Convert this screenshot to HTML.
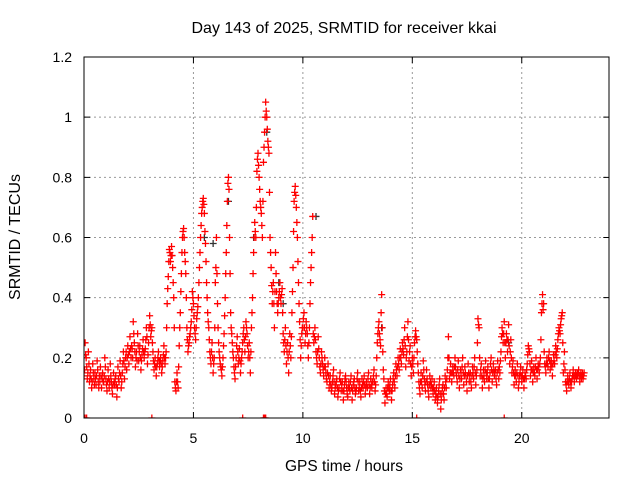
<!DOCTYPE html>
<html><head><meta charset="utf-8"><style>
body{margin:0;background:#fff}
svg{display:block;font-family:"Liberation Sans",sans-serif;font-size:14px}
</style></head><body>
<svg id="chart" width="640" height="480">
<rect width="640" height="480" fill="#fff"/>
<text x="344" y="33" text-anchor="middle" font-size="16">Day 143 of 2025, SRMTID for receiver kkai</text>
<text x="344" y="471" text-anchor="middle" font-size="15.5">GPS time / hours</text>
<text x="20" y="237" text-anchor="middle" font-size="16" transform="rotate(-90 20 237)">SRMTID / TECUs</text>
<defs><clipPath id="pc"><rect x="84" y="57" width="525" height="361"/></clipPath></defs>
<g id="grid"></g><g id="ticks"></g>
<g id="marks" clip-path="url(#pc)"></g>
<rect x="84" y="57" width="525" height="361" fill="none" stroke="#000" stroke-width="1"/>
</svg>
<script>
const xTicks=[0,5,10,15,20];
const yTicks=[0,0.2,0.4,0.6,0.8,1,1.2];
const tStart=0, tStep=0.05, tStartB=0.025;
const srmtid=[
0.14,0.25,0.2,0.13,0.22,0.12,0.16,0.1,0.18,0.13,0.15,0.11,0.19,0.12,0.14,0.17,0.1,0.15,0.12,0.2,
0.13,0.09,0.16,0.1,0.18,0.12,0.08,0.15,0.11,0.14,0.07,0.17,0.12,0.19,0.1,0.15,0.22,0.13,0.2,0.16,
0.24,0.18,0.27,0.2,0.23,0.32,0.25,0.17,0.22,0.28,0.19,0.24,0.16,0.21,0.26,0.2,0.23,0.3,0.18,0.25,
0.34,0.27,0.3,0.22,0.16,0.2,0.14,0.18,0.22,0.17,0.2,0.15,0.19,0.24,0.18,0.22,0.38,0.47,0.56,0.52,
0.57,0.5,0.4,0.12,0.09,0.15,0.1,0.24,0.35,0.48,0.6,0.63,0.55,0.48,0.3,0.22,0.25,0.28,0.32,0.42,
0.38,0.3,0.26,0.33,0.37,0.45,0.55,0.64,0.7,0.73,0.68,0.58,0.45,0.35,0.3,0.22,0.18,0.25,0.15,0.2,
0.45,0.6,0.38,0.25,0.2,0.17,0.14,0.2,0.28,0.4,0.55,0.72,0.8,0.6,0.35,0.28,0.22,0.17,0.13,0.2,
0.27,0.18,0.23,0.15,0.2,0.25,0.3,0.22,0.32,0.28,0.2,0.25,0.15,0.3,0.4,0.55,0.65,0.6,0.82,0.88,
0.8,0.72,0.68,0.6,0.85,0.95,1.05,1.0,0.92,0.88,0.6,0.5,0.38,0.45,0.3,0.55,0.42,0.35,0.4,0.45,
0.38,0.43,0.28,0.22,0.3,0.18,0.25,0.15,0.28,0.2,0.35,0.5,0.72,0.77,0.7,0.6,0.45,0.32,0.2,0.28,
0.3,0.35,0.25,0.32,0.28,0.2,0.3,0.45,0.55,0.67,0.25,0.3,0.22,0.18,0.27,0.2,0.15,0.22,0.18,0.14,
0.2,0.15,0.12,0.18,0.1,0.14,0.09,0.12,0.16,0.08,0.11,0.13,0.07,0.1,0.15,0.09,0.12,0.06,0.11,0.14,
0.1,0.07,0.12,0.09,0.14,0.06,0.11,0.13,0.08,0.1,0.15,0.09,0.12,0.07,0.13,0.1,0.14,0.08,0.12,0.1,
0.15,0.08,0.13,0.1,0.12,0.16,0.09,0.14,0.25,0.3,0.28,0.24,0.41,0.22,0.13,0.05,0.1,0.07,0.12,0.09,
0.13,0.06,0.11,0.15,0.1,0.18,0.14,0.2,0.16,0.23,0.18,0.25,0.21,0.3,0.17,0.22,0.32,0.19,0.24,0.14,
0.2,0.15,0.25,0.29,0.26,0.18,0.12,0.08,0.15,0.1,0.19,0.13,0.09,0.16,0.11,0.07,0.14,0.1,0.13,0.08,
0.12,0.06,0.1,0.05,0.09,0.13,0.03,0.08,0.11,0.06,0.14,0.1,0.16,0.27,0.13,0.18,0.12,0.17,0.14,0.2,
0.15,0.12,0.19,0.1,0.16,0.13,0.2,0.11,0.17,0.14,0.09,0.18,0.12,0.15,0.1,0.17,0.13,0.2,0.11,0.16,
0.33,0.3,0.14,0.18,0.1,0.16,0.12,0.19,0.13,0.17,0.1,0.15,0.2,0.12,0.18,0.14,0.16,0.11,0.19,0.13,
0.15,0.22,0.3,0.25,0.32,0.2,0.28,0.22,0.31,0.18,0.26,0.15,0.19,0.11,0.16,0.12,0.18,0.1,0.14,0.17,
0.12,0.16,0.1,0.15,0.13,0.18,0.24,0.22,0.14,0.19,0.12,0.17,0.14,0.2,0.13,0.18,0.15,0.2,0.35,0.41,
0.38,0.18,0.15,0.2,0.17,0.22,0.16,0.19,0.14,0.21,0.18,0.24,0.2,0.26,0.3,0.28,0.33,0.35,0.15,0.22,
0.12,0.09,0.14,0.11,0.15,0.1,0.13,0.16,0.12,0.15,0.13,0.14,0.16,0.12,0.15,0.14,0.13,0.15];
const srmtidB=[
0.16,0.21,0.17,0.15,0.18,0.14,0.13,0.12,0.15,0.11,0.13,0.14,0.16,0.1,0.12,0.14,0.13,0.12,0.14,0.17,
0.11,0.12,0.13,0.12,0.14,0.1,0.11,0.12,0.13,0.11,0.1,0.13,0.15,0.14,0.12,0.18,0.19,0.17,0.22,0.2,
0.21,0.22,0.23,0.24,0.2,0.28,0.22,0.2,0.19,0.24,0.22,0.2,0.19,0.23,0.22,0.22,0.26,0.27,0.21,0.3,
0.31,0.29,0.25,0.19,0.18,0.17,0.17,0.2,0.19,0.19,0.18,0.17,0.21,0.2,0.2,0.3,0.43,0.52,0.55,0.54,
0.54,0.45,0.3,0.1,0.12,0.12,0.17,0.3,0.42,0.55,0.62,0.6,0.52,0.4,0.26,0.24,0.27,0.3,0.36,0.4,
0.34,0.28,0.3,0.35,0.4,0.5,0.6,0.68,0.72,0.71,0.62,0.52,0.4,0.32,0.26,0.2,0.22,0.2,0.18,0.3,
0.5,0.48,0.3,0.22,0.18,0.16,0.17,0.24,0.34,0.48,0.64,0.78,0.76,0.48,0.3,0.25,0.2,0.15,0.17,0.24,
0.22,0.2,0.19,0.18,0.22,0.28,0.26,0.27,0.3,0.24,0.22,0.2,0.22,0.35,0.48,0.6,0.62,0.7,0.86,0.84,
0.76,0.7,0.64,0.72,0.9,1.0,1.02,0.96,0.9,0.75,0.55,0.44,0.42,0.38,0.42,0.48,0.38,0.38,0.42,0.4,
0.41,0.35,0.25,0.26,0.24,0.22,0.2,0.22,0.24,0.27,0.42,0.62,0.75,0.74,0.65,0.52,0.38,0.26,0.24,0.3,
0.33,0.3,0.28,0.3,0.24,0.25,0.38,0.5,0.6,0.28,0.27,0.26,0.2,0.22,0.23,0.17,0.18,0.2,0.16,0.17,
0.17,0.13,0.15,0.14,0.12,0.11,0.1,0.14,0.12,0.1,0.12,0.1,0.09,0.13,0.12,0.11,0.09,0.09,0.13,0.12,
0.08,0.1,0.1,0.12,0.1,0.09,0.12,0.1,0.09,0.13,0.12,0.1,0.09,0.1,0.11,0.12,0.11,0.1,0.11,0.13,
0.11,0.1,0.11,0.12,0.14,0.12,0.11,0.2,0.28,0.32,0.26,0.35,0.3,0.16,0.09,0.08,0.08,0.1,0.1,0.11,
0.09,0.09,0.13,0.12,0.14,0.16,0.17,0.18,0.2,0.2,0.22,0.23,0.26,0.24,0.2,0.27,0.26,0.22,0.18,0.17,
0.18,0.2,0.27,0.27,0.22,0.15,0.1,0.12,0.12,0.14,0.16,0.11,0.12,0.13,0.09,0.11,0.12,0.11,0.1,0.1,
0.09,0.08,0.07,0.07,0.11,0.08,0.06,0.1,0.08,0.1,0.12,0.13,0.2,0.2,0.15,0.15,0.15,0.15,0.17,0.17,
0.14,0.16,0.14,0.13,0.15,0.17,0.15,0.14,0.15,0.12,0.14,0.15,0.14,0.12,0.14,0.15,0.17,0.15,0.14,0.25,
0.31,0.2,0.16,0.14,0.13,0.14,0.16,0.15,0.15,0.13,0.13,0.18,0.16,0.15,0.16,0.15,0.13,0.15,0.16,0.17,
0.19,0.27,0.28,0.28,0.25,0.25,0.26,0.26,0.24,0.22,0.2,0.17,0.15,0.14,0.14,0.15,0.14,0.12,0.15,0.14,
0.14,0.13,0.13,0.14,0.16,0.21,0.23,0.18,0.16,0.16,0.15,0.15,0.17,0.16,0.16,0.17,0.18,0.26,0.38,0.36,
0.22,0.17,0.18,0.18,0.2,0.19,0.18,0.17,0.18,0.19,0.21,0.22,0.23,0.28,0.29,0.31,0.34,0.25,0.18,0.16,
0.11,0.12,0.12,0.13,0.12,0.12,0.14,0.14,0.14,0.14,0.15,0.15,0.14,0.14,0.13,0.15,0.14];
const zeroTimes=[0.05,0.12,3.1,7.25,8.2,8.25,8.3,15.2,19.2];
const blackTimes=[5.5,5.9,6.6,7.75,8.35,8.9,9.1,10.6,13.6,19.4];
const blackValues=[0.6,0.58,0.72,0.6,0.95,0.45,0.38,0.67,0.3,0.25];

const NS='http://www.w3.org/2000/svg';
const X0=84,X1=609.3,Y0=418,Y1=57;
const xs=t=>X0+(t-0)/(24-0)*(X1-X0);
const ys=v=>Y0-(v-0)/(1.2-0)*(Y0-Y1);
function mk(tag,attrs,parent){const e=document.createElementNS(NS,tag);for(const k in attrs)e.setAttribute(k,attrs[k]);parent.appendChild(e);return e;}
const grid=document.getElementById('grid'),ticks=document.getElementById('ticks'),marks=document.getElementById('marks');
xTicks.forEach(t=>{const x=xs(t);
 if(t>0){const g=mk('line',{x1:x,x2:x,y1:Y1,y2:Y0,stroke:'#999','stroke-dasharray':'2,3'},grid);
 
 }
 const a=mk('path',{d:`M${x},${Y0}v-6M${x},${Y1}v6`,stroke:'#000'},ticks);
 
 
 const l=mk('text',{x:x,y:443,'text-anchor':'middle'},ticks);l.textContent=String(t);
 
 
});
yTicks.forEach(v=>{const y=ys(v);
 if(v>0&&v<1.2){const g=mk('line',{x1:X0,x2:X1,y1:y,y2:y,stroke:'#999','stroke-dasharray':'2,3'},grid);
 
 }
 const a=mk('path',{d:`M${X0},${y}h6M${X1},${y}h-6`,stroke:'#000'},ticks);
 
 
 const l=mk('text',{x:72,y:y+5,'text-anchor':'end'},ticks);l.textContent=String(v);
 
 
});
function cross(t,v,color,name){const x=xs(t),y=ys(v);
 const p=mk('path',{d:`M${x-3.5},${y}h7M${x},${y-3.5}v7`,stroke:color,'stroke-width':1.3},marks);
 
 }
blackValues.forEach((v,i)=>cross(blackTimes[i],v,'#333','black-point'));
srmtid.forEach((v,i)=>cross(tStart+i*tStep,v,'#f00','srmtid-point'));
srmtidB.forEach((v,i)=>cross(tStartB+i*tStep,v,'#f00','srmtid-point'));
zeroTimes.forEach(t=>cross(t,0,'#f00','zero-point'));
</script>
</body></html>
